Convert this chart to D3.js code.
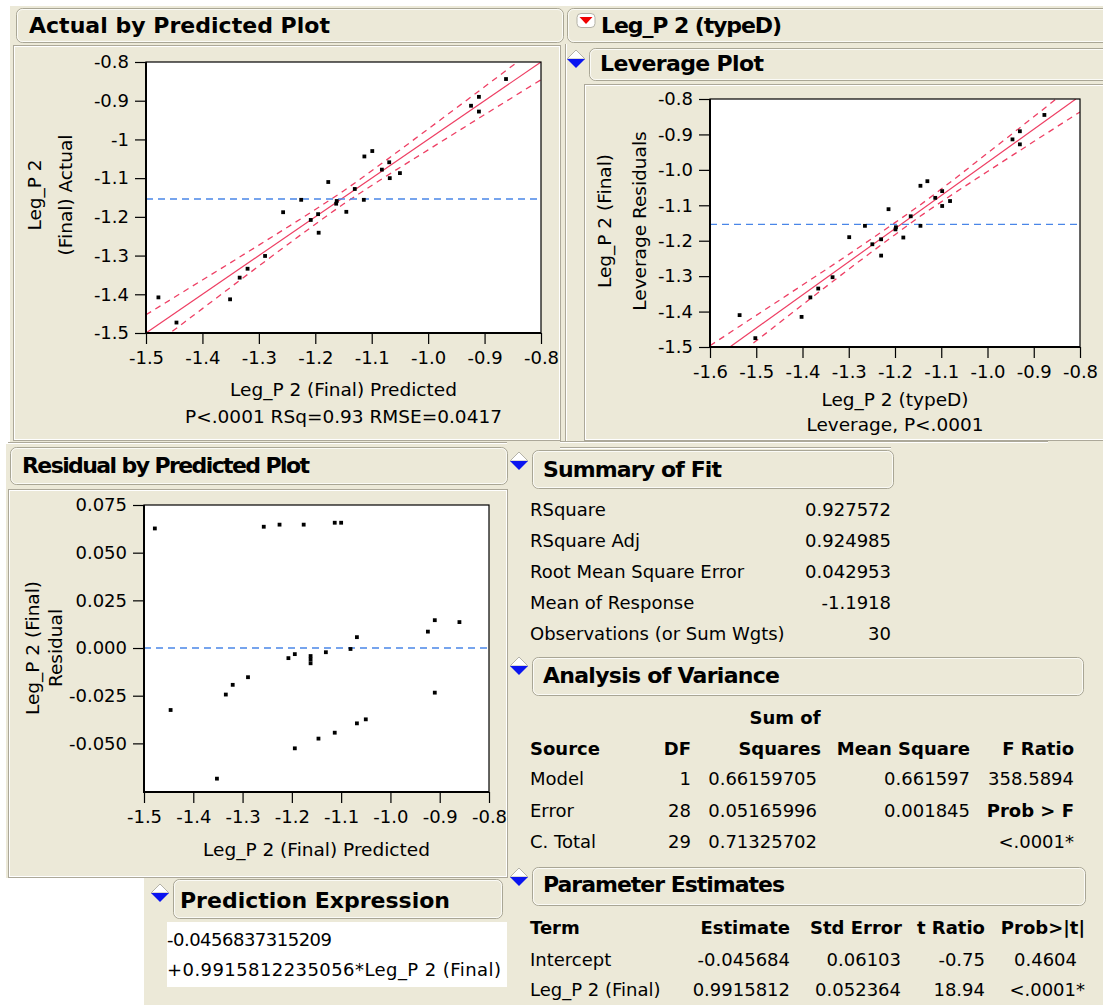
<!DOCTYPE html>
<html><head><meta charset="utf-8">
<script src="https://cdn.jsdelivr.net/npm/d3@7"></script>
<style>
body{margin:0;background:#fff;}
svg{display:block;}
text{font-family:"DejaVu Sans",sans-serif;fill:#000;}
</style></head><body>
<svg id="c" width="1103" height="1005"></svg>
<script>
// ---- Actual by Predicted ----
const predX   = [-0.862,-0.910,-0.924,-0.910,-1.099,-1.113,-1.069,-1.082,-1.050,-1.068,-1.177,-1.130,-1.225,-1.114,-1.162,-1.163,-1.145,-1.257,-1.195,-1.208,-1.194,-1.289,-1.320,-1.334,-1.351,-1.478,-1.446];
const actualY = [-0.844,-0.890,-0.913,-0.928,-1.030,-1.044,-1.059,-1.078,-1.087,-1.100,-1.110,-1.128,-1.156,-1.156,-1.159,-1.166,-1.187,-1.188,-1.193,-1.208,-1.241,-1.301,-1.334,-1.357,-1.413,-1.408,-1.473];
const apFitX = [-1.5,-0.8];
const apFitY = [-1.5,-0.8];
const apBandX = [-1.5,-1.4,-1.3,-1.2,-1.15,-1.1,-1.0,-0.9,-0.8];
const apBandHalf = [0.047,0.037,0.027,0.019,0.017,0.019,0.027,0.036,0.046];
const apMean = -1.154;
const apYTicks = [-1.5,-1.4,-1.3,-1.2,-1.1,-1,-0.9,-0.8];
const apYTickLabels = ["-1.5","-1.4","-1.3","-1.2","-1.1","-1","-0.9","-0.8"];
const apXTicks = [-1.5,-1.4,-1.3,-1.2,-1.1,-1.0,-0.9,-0.8];
const apXTickLabels = ["-1.5","-1.4","-1.3","-1.2","-1.1","-1.0","-0.9","-0.8"];

// ---- Leverage ----
const levX = [-0.877,-0.930,-0.946,-0.930,-1.130,-1.145,-1.098,-1.113,-1.081,-1.098,-1.214,-1.166,-1.265,-1.145,-1.198,-1.199,-1.182,-1.299,-1.230,-1.249,-1.230,-1.335,-1.366,-1.383,-1.402,-1.536,-1.502];
const levY = [-0.845,-0.891,-0.914,-0.928,-1.032,-1.045,-1.060,-1.079,-1.088,-1.102,-1.111,-1.131,-1.158,-1.158,-1.162,-1.168,-1.191,-1.190,-1.196,-1.210,-1.242,-1.303,-1.335,-1.360,-1.415,-1.410,-1.475];
const levFitX = [-1.557,-0.809];
const levFitY = [-1.5,-0.8];
const levBandX = [-1.6,-1.5,-1.4,-1.3,-1.2,-1.15,-1.1,-1.0,-0.9,-0.8];
const levBandHalf = [0.044,0.036,0.028,0.021,0.017,0.016,0.018,0.026,0.035,0.045];
const levMean = -1.154;
const levYTicks = [-1.5,-1.4,-1.3,-1.2,-1.1,-1.0,-0.9,-0.8];
const levYTickLabels = ["-1.5","-1.4","-1.3","-1.2","-1.1","-1.0","-0.9","-0.8"];
const levXTicks = [-1.6,-1.5,-1.4,-1.3,-1.2,-1.1,-1.0,-0.9,-0.8];
const levXTickLabels = ["-1.6","-1.5","-1.4","-1.3","-1.2","-1.1","-1.0","-0.9","-0.8"];

// ---- Residual by Predicted ----
const resX = [-1.478,-1.257,-1.225,-1.176,-1.113,-1.100,-0.924,-0.910,-0.860,-1.068,-1.081,-1.131,-1.194,-1.207,-1.162,-1.162,-1.162,-1.289,-1.320,-1.334,-1.446,-0.910,-1.050,-1.068,-1.113,-1.146,-1.194,-1.352];
const resY = [0.0627,0.0636,0.0647,0.0647,0.0657,0.0657,0.0086,0.0146,0.0136,0.0057,-0.0005,-0.0022,-0.0032,-0.0053,-0.0042,-0.0060,-0.0080,-0.0153,-0.0193,-0.0244,-0.0325,-0.0234,-0.0374,-0.0395,-0.0444,-0.0475,-0.0526,-0.0685];
const resMean = 0;
const resYTicks = [-0.05,-0.025,0,0.025,0.05,0.075];
const resYTickLabels = ["-0.050","-0.025","0.000","0.025","0.050","0.075"];
const resXTicks = [-1.5,-1.4,-1.3,-1.2,-1.1,-1.0,-0.9,-0.8];
const resXTickLabels = ["-1.5","-1.4","-1.3","-1.2","-1.1","-1.0","-0.9","-0.8"];

// ---- Report tables ----
const summaryLabels = ["RSquare","RSquare Adj","Root Mean Square Error","Mean of Response","Observations (or Sum Wgts)"];
const summaryValues = ["0.927572","0.924985","0.042953","-1.1918","30"];
const anovaSource = ["Model","Error","C. Total"];
const anovaDF = ["1","28","29"];
const anovaSS = ["0.66159705","0.05165996","0.71325702"];
const anovaMS = ["0.661597","0.001845",""];
const anovaF = ["358.5894","Prob > F","<.0001*"];
const paramTerm = ["Intercept","Leg_P 2 (Final)"];
const paramEst = ["-0.045684","0.9915812"];
const paramSE = ["0.06103","0.052364"];
const paramT = ["-0.75","18.94"];
const paramP = ["0.4604","<.0001*"];
const predictionLines = ["-0.0456837315209","+0.9915812235056*Leg_P 2 (Final)"];

// ---- drawing ----
const BEIGE = "#ECE9D8", EDGE = "#aca899", FIT = "#ee3f64", MEANC = "#4a86e8";
const svg = d3.select("#c");
svg.append("rect").attr("width",1103).attr("height",1005).attr("fill","#fff");

// background panes
[[10,6,556,438],[563,6,540,442],[6,444,503,434],[505,444,598,561],[144,876,365,129]]
  .forEach(([x,y,w,h]) => svg.append("rect").attr("x",x).attr("y",y).attr("width",w).attr("height",h).attr("fill",BEIGE));

function inset(x,y,w,h){
  svg.append("rect").attr("x",x+0.5).attr("y",y+0.5).attr("width",w).attr("height",h)
    .attr("fill","none").attr("stroke",EDGE);
  svg.append("rect").attr("x",x+1.5).attr("y",y+1.5).attr("width",w-2).attr("height",h-2)
    .attr("fill","none").attr("stroke","#fff");
}
function hline(x1,x2,y){
  svg.append("line").attr("x1",x1).attr("x2",x2).attr("y1",y+0.5).attr("y2",y+0.5).attr("stroke",EDGE);
  svg.append("line").attr("x1",x1).attr("x2",x2).attr("y1",y+1.5).attr("y2",y+1.5).attr("stroke","#fff");
}
function vline(x,y1,y2){
  svg.append("line").attr("x1",x+0.5).attr("x2",x+0.5).attr("y1",y1).attr("y2",y2).attr("stroke",EDGE);
  svg.append("line").attr("x1",x+1.5).attr("x2",x+1.5).attr("y1",y1).attr("y2",y2).attr("stroke","#fff");
}
inset(13,45,547,395);
inset(584,84,530,356);
inset(8,489,499,388);
vline(565,44,441);
hline(560,1048,441);
hline(560,891,447);
hline(8,507,442);

function titleBox(x,y,w,h,label,tx,ty,tlen){
  svg.append("rect").attr("x",x+0.5).attr("y",y+0.5).attr("width",w).attr("height",h)
    .attr("rx",6).attr("fill",BEIGE).attr("stroke","#a9a695");
  svg.append("rect").attr("x",x+1.5).attr("y",y+1.5).attr("width",w-2).attr("height",h-2)
    .attr("rx",5).attr("fill","none").attr("stroke","#fff").attr("stroke-opacity",0.8);
  const t = svg.append("text").attr("x",tx).attr("y",ty).attr("font-size",22)
    .attr("font-weight","bold").text(label);
  if (tlen) t.attr("textLength",tlen).attr("lengthAdjust","spacing");
}
function blueToggle(cx,cy){
  svg.append("path").attr("d",`M${cx-9},${cy} L${cx},${cy-9} L${cx+9},${cy} Z`)
    .attr("fill","#fff").attr("stroke","#b5b3a8");
  svg.append("path").attr("d",`M${cx-9},${cy} L${cx+9},${cy} L${cx},${cy+9} Z`).attr("fill","#0a14f0");
}
titleBox(16,8,547,34,"Actual by Predicted Plot",29,33,301);
titleBox(567,8,560,34,"Leg_P 2 (typeD)",601,33,181);
// red toggle
svg.append("rect").attr("x",577).attr("y",13.5).attr("width",18).attr("height",14).attr("rx",4)
  .attr("fill","#fff").attr("stroke","#b5b3a8");
svg.append("path").attr("d","M579.5,17 L592.5,17 L586,24 Z").attr("fill","#f00000");
titleBox(589,48,540,32,"Leverage Plot",600,71,164);
blueToggle(576,59);
titleBox(10,447,497,37,"Residual by Predicted Plot",22,473,288);

function fmtLinear(x0,y0,x1,y1){ return v => y0 + (v - x0)*(y1 - y0)/(x1 - x0); }

function plot(o){
  const x = d3.scaleLinear().domain(o.xd).range([o.L,o.R]);
  const y = d3.scaleLinear().domain(o.yd).range([o.B,o.T]);
  const g = svg.append("g");
  g.append("rect").attr("x",o.L).attr("y",o.T).attr("width",o.R-o.L).attr("height",o.B-o.T).attr("fill","#fff");
  const clipId = "clip"+o.id;
  svg.append("clipPath").attr("id",clipId).append("rect")
    .attr("x",o.L).attr("y",o.T).attr("width",o.R-o.L).attr("height",o.B-o.T);
  const inner = g.append("g").attr("clip-path",`url(#${clipId})`);

  if (o.fitX){
    const f = fmtLinear(o.fitX[0],o.fitY[0],o.fitX[1],o.fitY[1]);
    const ln = d3.line().x(d=>x(d[0])).y(d=>y(d[1])).curve(d3.curveMonotoneX);
    const up = o.bandX.map((v,i)=>[v,f(v)+o.bandHalf[i]]);
    const lo = o.bandX.map((v,i)=>[v,f(v)-o.bandHalf[i]]);
    [up,lo].forEach(b => inner.append("path").attr("d",ln(b)).attr("fill","none")
      .attr("stroke",FIT).attr("stroke-width",1.3).attr("stroke-dasharray","6,5"));
    inner.append("line").attr("x1",x(o.fitX[0])).attr("y1",y(o.fitY[0]))
      .attr("x2",x(o.fitX[1])).attr("y2",y(o.fitY[1])).attr("stroke",FIT).attr("stroke-width",1.2);
  }
  inner.append("line").attr("x1",o.L).attr("x2",o.R).attr("y1",y(o.mean)).attr("y2",y(o.mean))
    .attr("stroke",MEANC).attr("stroke-width",1.4).attr("stroke-dasharray","7,5");
  inner.selectAll("rect.pt").data(o.px.map((v,i)=>[v,o.py[i]])).join("rect").attr("class","pt")
    .attr("x",d=>x(d[0])-1.9).attr("y",d=>y(d[1])-1.9).attr("width",3.8).attr("height",3.8).attr("fill","#000");

  g.append("rect").attr("x",o.L).attr("y",o.T).attr("width",o.R-o.L).attr("height",o.B-o.T)
    .attr("fill","none").attr("stroke","#000").attr("stroke-width",1.2);
  g.append("line").attr("x1",o.L).attr("x2",o.L).attr("y1",o.T).attr("y2",o.B+1).attr("stroke","#000").attr("stroke-width",2);
  g.append("line").attr("x1",o.L-1).attr("x2",o.R).attr("y1",o.B).attr("y2",o.B).attr("stroke","#000").attr("stroke-width",2);

  const yl = new Map(o.yTicks.map((v,i)=>[v,o.yLabels[i]]));
  const xl = new Map(o.xTicks.map((v,i)=>[v,o.xLabels[i]]));
  const ya = g.append("g").attr("transform",`translate(${o.L},0)`)
    .call(d3.axisLeft(y).tickValues(o.yTicks).tickFormat(v=>yl.get(v)).tickSize(11).tickPadding(6));
  const xa = g.append("g").attr("transform",`translate(0,${o.B})`)
    .call(d3.axisBottom(x).tickValues(o.xTicks).tickFormat(v=>xl.get(v)).tickSize(11).tickPadding(7));
  [ya,xa].forEach(a=>{
    a.select(".domain").remove();
    a.selectAll(".tick line").attr("stroke","#000").attr("stroke-width",1.2);
    a.selectAll(".tick text").attr("font-size",18).attr("font-family","DejaVu Sans").attr("fill","#000");
  });
  o.xTitles.forEach(([s,ty]) => g.append("text").attr("x",(o.L+o.R)/2).attr("y",ty)
    .attr("text-anchor","middle").attr("font-size",18.5).text(s));
  o.yTitles.forEach(([s,bx]) => g.append("text")
    .attr("transform",`translate(${bx},${o.yTitleC}) rotate(-90)`)
    .attr("text-anchor","middle").attr("font-size",18.5).text(s));
}

plot({id:1, xd:[-1.5,-0.8], yd:[-1.5,-0.8], L:146, R:541, T:62, B:333,
  px:predX, py:actualY, fitX:apFitX, fitY:apFitY, bandX:apBandX, bandHalf:apBandHalf, mean:apMean,
  yTicks:apYTicks, yLabels:apYTickLabels, xTicks:apXTicks, xLabels:apXTickLabels,
  xTitles:[["Leg_P 2 (Final) Predicted",396],["P<.0001 RSq=0.93 RMSE=0.0417",423]],
  yTitles:[["Leg_P 2",41],["(Final) Actual",72]], yTitleC:195});

plot({id:2, xd:[-1.6,-0.8], yd:[-1.5,-0.8], L:710, R:1080, T:99, B:347,
  px:levX, py:levY, fitX:levFitX, fitY:levFitY, bandX:levBandX, bandHalf:levBandHalf, mean:levMean,
  yTicks:levYTicks, yLabels:levYTickLabels, xTicks:levXTicks, xLabels:levXTickLabels,
  xTitles:[["Leg_P 2 (typeD)",406],["Leverage, P<.0001",431]],
  yTitles:[["Leg_P 2 (Final)",611],["Leverage Residuals",646]], yTitleC:221});

plot({id:3, xd:[-1.5,-0.8], yd:[-0.0755,0.075], L:144, R:489, T:505, B:792,
  px:resX, py:resY, mean:resMean,
  yTicks:resYTicks, yLabels:resYTickLabels, xTicks:resXTicks, xLabels:resXTickLabels,
  xTitles:[["Leg_P 2 (Final) Predicted",856]],
  yTitles:[["Leg_P 2 (Final)",39],["Residual",62]], yTitleC:648});

// ---- tables ----
function txt(x,y,s,anchor,bold){
  return svg.append("text").attr("x",x).attr("y",y).attr("dy","0.36em").attr("font-size",18)
    .attr("text-anchor",anchor||"start").attr("font-weight",bold?"bold":"normal").text(s);
}

titleBox(532,450,361,38,"Summary of Fit",543,477,179);
blueToggle(519,461);
const sumRowsY = [510,541,572,603,634];
summaryLabels.forEach((s,i)=>{ txt(530,sumRowsY[i],s); txt(891,sumRowsY[i],summaryValues[i],"end"); });

titleBox(532,657,551,38,"Analysis of Variance",543,683,237);
blueToggle(519,666);
txt(785,718,"Sum of","middle",true);
const anovaHeadY = 749;
txt(530,anovaHeadY,"Source","start",true);
txt(691,anovaHeadY,"DF","end",true);
txt(821,anovaHeadY,"Squares","end",true);
txt(970,anovaHeadY,"Mean Square","end",true);
txt(1074,anovaHeadY,"F Ratio","end",true);
const anovaRowsY = [779,811,842];
anovaSource.forEach((s,i)=>{
  const yy = anovaRowsY[i];
  txt(530,yy,s);
  txt(691,yy,anovaDF[i],"end");
  txt(817,yy,anovaSS[i],"end");
  txt(970,yy,anovaMS[i],"end");
  txt(1074,yy,anovaF[i],"end",anovaF[i]==="Prob > F");
});

titleBox(532,867,553,38,"Parameter Estimates",543,892,242);
blueToggle(519,877);
const paramHeadY = 928;
txt(530,paramHeadY,"Term","start",true);
txt(790,paramHeadY,"Estimate","end",true);
txt(902,paramHeadY,"Std Error","end",true);
txt(985,paramHeadY,"t Ratio","end",true);
txt(1085,paramHeadY,"Prob>|t|","end",true);
const paramRowsY = [960,990];
paramTerm.forEach((s,i)=>{
  const yy = paramRowsY[i];
  txt(530,yy,s);
  txt(790,yy,paramEst[i],"end");
  txt(901,yy,paramSE[i],"end");
  txt(985,yy,paramT[i],"end");
  txt(paramP[i].endsWith("*")?1085:1077,yy,paramP[i],"end");
});

titleBox(173,879,329,39,"Prediction Expression",180,908,270);
blueToggle(160,893);
svg.append("rect").attr("x",167).attr("y",922).attr("width",340).attr("height",65).attr("fill","#fff");
const predLineY = [940,970];
const predLineLen = [165,334];
predictionLines.forEach((s,i)=>txt(167,predLineY[i],s)
  .attr("textLength",predLineLen[i]).attr("lengthAdjust","spacing"));
</script>
</body></html>
